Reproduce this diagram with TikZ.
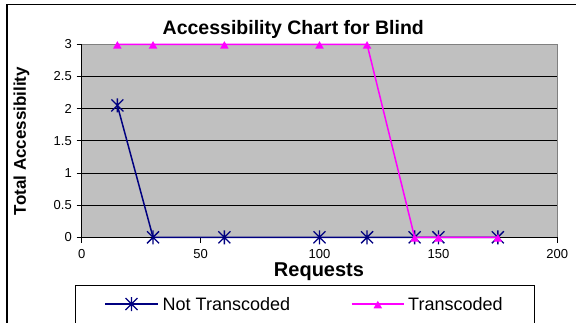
\documentclass[tikz,border=0pt]{standalone}
\usepackage{fontspec}
\setmainfont{Liberation Sans}
\definecolor{navy}{HTML}{000080}
\definecolor{mag}{HTML}{FF00FF}
\definecolor{plotgray}{HTML}{C0C0C0}
\definecolor{bordergray}{HTML}{808080}
\tikzset{
  starmark/.pic={\draw[navy,line width=1.3pt] (0pt,-7pt)--(0pt,7pt) (-6pt,-6pt)--(6pt,6pt) (-6pt,6pt)--(6pt,-6pt);},
  trimark/.pic={\fill[mag] (-4.3pt,-4.3pt) -- (4.3pt,-4.3pt) -- (0pt,3.2pt) -- cycle;},
  ticklbl/.style={font=\fontsize{13}{13}\selectfont, inner sep=0pt},
  axtitle/.style={font=\fontsize{20}{20}\selectfont\bfseries, inner sep=0pt},
  legtext/.style={font=\fontsize{18}{18}\selectfont, inner sep=0pt, anchor=west},
  navyline/.style={navy, line width=1.5pt},
  magline/.style={mag, line width=1.5pt},
}
\begin{document}
\begin{tikzpicture}[x=1pt,y=-1pt]
\useasboundingbox (0,0) rectangle (576,322);
\begin{scope}
\clip (0,0) rectangle (576,322);
% outer frame
\draw[line width=1.3pt] (7,340) -- (7,4.8) -- (600,4.8);
% plot area
\fill[plotgray] (81.7,44.3) rectangle (557.3,237.3);
\foreach \v in {0.5,1,1.5,2,2.5} {
  \draw[black, line width=0.8pt] (81.7,{237.3-64.33*\v}) -- (557.3,{237.3-64.33*\v});
}
\draw[bordergray, line width=1.5pt] (81.7,44.3) -- (557.3,44.3) -- (557.3,237.3);
% axes
\draw[black, line width=0.9pt] (81.7,44.3) -- (81.7,237.3) -- (557.3,237.3);
\foreach \v/\l in {0/0,0.5/0.5,1/1,1.5/1.5,2/2,2.5/2.5,3/3} {
  \draw[black, line width=0.9pt] (76.5,{237.3-64.33*\v}) -- (81.7,{237.3-64.33*\v});
  \node[ticklbl, anchor=east] (ylab\l) at (72,{237.3-64.33*\v}) {\l};
}
\foreach \v in {0,50,100,150,200} {
  \draw[black, line width=0.9pt] ({81.7+2.378*\v},237.3) -- ({81.7+2.378*\v},242.5);
  \node[ticklbl] (xlab\v) at ({81.7+2.378*\v},254.5) {\v};
}
% titles
\node[axtitle, font=\fontsize{19.5}{20}\selectfont\bfseries] (title) at (293.3,29) {Accessibility Chart for Blind};
\node[axtitle, font=\fontsize{17}{17}\selectfont\bfseries, rotate=90] (ytitle) at (21.5,141) {Total Accessibility};
\node[axtitle] (xtitle) at (319,271.5) {Requests};
% data
\begin{scope}[shift={(81.7,237.3)}, x=2.378pt, y=64.33pt]
  \coordinate (n1) at (15,2.05);
  \coordinate (n2) at (30,0);
  \coordinate (n3) at (60,0);
  \coordinate (n4) at (100,0);
  \coordinate (n5) at (120,0);
  \coordinate (n6) at (140,0);
  \coordinate (n7) at (150,0);
  \coordinate (n8) at (175,0);
  \coordinate (t1) at (15,3);
  \coordinate (t2) at (30,3);
  \coordinate (t3) at (60,3);
  \coordinate (t4) at (100,3);
  \coordinate (t5) at (120,3);
  \coordinate (t6) at (140,0);
  \coordinate (t7) at (150,0);
  \coordinate (t8) at (175,0);
\end{scope}
\draw[navyline] (n1) -- (n2) -- (n3) -- (n4) -- (n5) -- (n6) -- (n7) -- (n8);
\foreach \p in {n1,n2,n3,n4,n5,n6,n7,n8} { \pic at (\p) {starmark}; }
\draw[magline] (t1) -- (t2) -- (t3) -- (t4) -- (t5) -- (t6) -- (t7) -- (t8);
\foreach \p in {t1,t2,t3,t4,t5,t6,t7,t8} { \pic at (\p) {trimark}; }
% legend
\draw[black, line width=0.9pt] (75.3,285.7) rectangle (534,340);
\coordinate (la) at (105,304);
\coordinate (lb) at (158,304);
\coordinate (lm1) at (131.5,304);
\draw[navyline] (la) -- (lb);
\pic at (lm1) {starmark};
\node[legtext] (leg1) at (162.5,304) {Not Transcoded};
\coordinate (lc) at (351.7,304);
\coordinate (ld) at (404,304);
\coordinate (lm2) at (377.8,304);
\draw[magline] (lc) -- (ld);
\pic at (lm2) {trimark};
\node[legtext] (leg2) at (408,304) {Transcoded};
\end{scope}
\end{tikzpicture}
\end{document}
